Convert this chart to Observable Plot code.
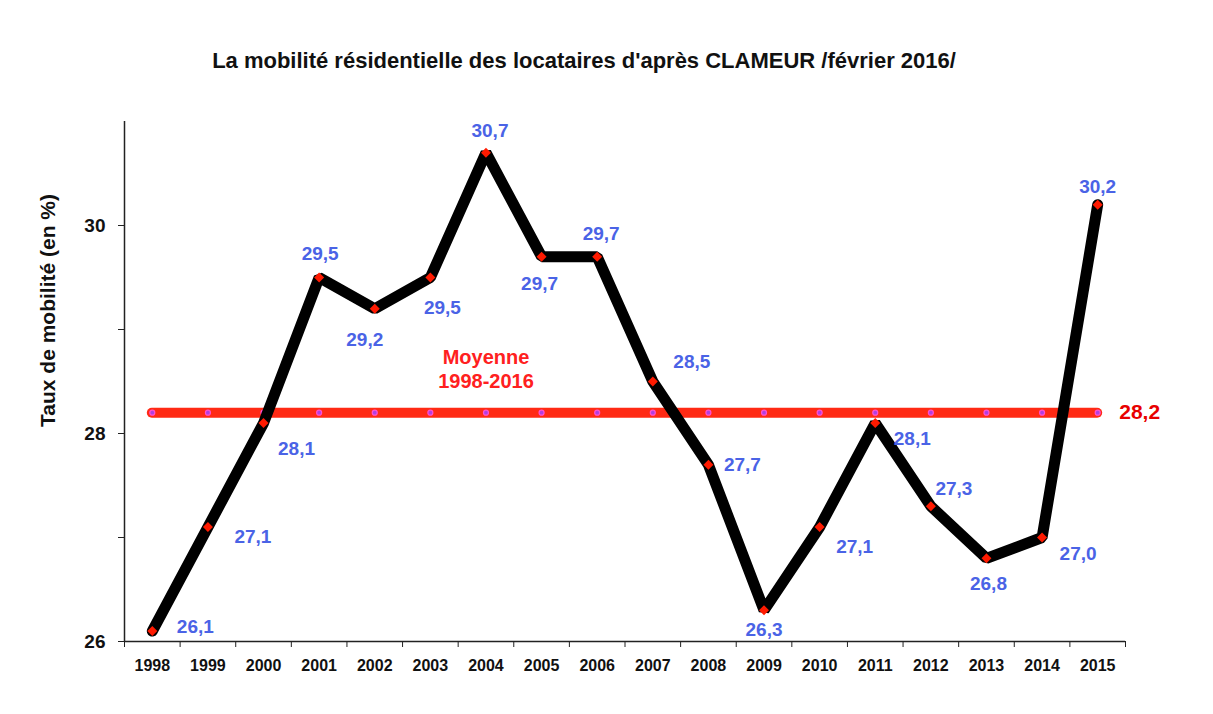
<!DOCTYPE html>
<html>
<head>
<meta charset="utf-8">
<script src="https://cdn.jsdelivr.net/npm/d3@7"></script>
<script src="https://cdn.jsdelivr.net/npm/@observablehq/plot@0.6"></script>
<style>
  body { margin: 0; background: #fff; width: 1213px; height: 714px; overflow: hidden; }
  #title { position: relative; height: 100px; width: 1168px; text-align: center;
           font-family: "Liberation Sans", Arial, sans-serif;
           font-weight: bold; font-size: 22px; color: #111; line-height: 1; }
  #title span { position: absolute; left: 0; right: 0; top: 50px; }
  #chart svg { display: block; overflow: visible; }
</style>
</head>
<body>
<div id="title"><span>La mobilité résidentielle des locataires d'après CLAMEUR /février 2016/</span></div>
<div id="chart"></div>
<script>
// ---- data ----
const years = [1998, 1999, 2000, 2001, 2002, 2003, 2004, 2005, 2006, 2007, 2008, 2009, 2010, 2011, 2012, 2013, 2014, 2015];
const rates = [26.1, 27.1, 28.1, 29.5, 29.2, 29.5, 30.7, 29.7, 29.7, 28.5, 27.7, 26.3, 27.1, 28.1, 27.3, 26.8, 27.0, 30.2];
const meanValue = 28.2;
const meanLabelLines = ["Moyenne", "1998-2016"];
const yLabeledTicks = [26, 28, 30];
const yMinorTicks = [27, 29];
const yAxisTitle = "Taux de mobilité (en %)";

// ---- layout (label offsets in px, per year) ----
const labelOffsets = [
  [43, -4], [45, 10], [33, 26], [1, -24], [-10, 31], [12, 30], [4, -22], [-2, 27], [4, -23],
  [39, -20], [34, 0], [0, 20], [35, 20], [37, 16], [23, -17], [2, 26], [36, 16], [0, -18]
];

const fmt = v => v.toFixed(1).replace(".", ",");
const data = years.map((y, i) => ({year: y, rate: rates[i], label: fmt(rates[i])}));
const boundaries = [...years.map(y => y - 0.5), years[years.length - 1] + 0.5];
const xMin = boundaries[0], xMax = boundaries[boundaries.length - 1];

const sans = '"Liberation Sans", Arial, sans-serif';
const blue = "#4a63e6";

const labelMarks = data.map((d, i) => Plot.text([d], {
  x: "year", y: "rate", text: "label",
  dx: labelOffsets[i][0], dy: labelOffsets[i][1],
  fill: blue, fontSize: 19, fontWeight: "bold", fontFamily: sans
}));

const plot = Plot.plot({
  width: 1213,
  height: 614,
  marginLeft: 124,
  marginRight: 88,
  marginTop: 21,
  marginBottom: 73,
  style: {fontFamily: sans, color: "#111", background: "#fff", overflow: "visible"},
  x: {domain: [xMin, xMax], axis: null},
  y: {domain: [26, 31], axis: null},
  marks: [
    // axes
    Plot.ruleX([xMin], {y1: 26, y2: 31, stroke: "#222", strokeWidth: 1.5}),
    Plot.ruleY([26], {x1: xMin, x2: xMax, stroke: "#222", strokeWidth: 1.5}),
    Plot.axisX({ticks: boundaries, tickSize: 6, tickFormat: () => "", stroke: "#222", label: null}),
    Plot.axisX({ticks: years, tickSize: 0, tickPadding: 18, tickFormat: d => String(d),
      fontWeight: "bold", fontSize: 16, fill: "#111", label: null}),
    Plot.axisY({ticks: yMinorTicks, tickSize: 6, tickFormat: () => "", stroke: "#222", label: null}),
    Plot.axisY({ticks: yLabeledTicks, tickSize: 6, tickPadding: 13, tickFormat: d => String(d),
      fontWeight: "bold", fontSize: 19, fill: "#111", stroke: "#222", label: null}),
    Plot.text([yAxisTitle], {frameAnchor: "left", textAnchor: "middle", rotate: -90, dx: -76, dy: -71, text: d => d,
      fontSize: 21, fontWeight: "bold", fill: "#111", fontFamily: sans}),
    // mean line
    Plot.ruleY([meanValue], {x1: years[0], x2: years[years.length - 1], stroke: "#ff2a14", strokeWidth: 10, strokeLinecap: "round"}),
    Plot.dot(years, {x: d => d, y: () => meanValue, r: 2.5, fill: "#b040e0", stroke: "#ff50d0", strokeWidth: 1.2}),
    // series
    Plot.line(data, {x: "year", y: "rate", stroke: "#000", strokeWidth: 11, strokeLinejoin: "miter"}),
    Plot.dot(data, {x: "year", y: "rate", symbol: "diamond2", r: 4.5, fill: "#ff1a00"}),
    ...labelMarks,
    // mean labels
    Plot.text([meanValue], {x: years[years.length - 1], y: d => d, text: d => fmt(d), dx: 42,
      fill: "#e80000", fontSize: 21, fontWeight: "bold", fontFamily: sans}),
    Plot.text([meanLabelLines[0]], {x: years[6], y: () => meanValue, text: d => d, dy: -55,
      fill: "#ff2020", fontSize: 20, fontWeight: "bold", fontFamily: sans}),
    Plot.text([meanLabelLines[1]], {x: years[6], y: () => meanValue, text: d => d, dy: -31,
      fill: "#ff2020", fontSize: 20, fontWeight: "bold", fontFamily: sans})
  ]
});
document.getElementById("chart").appendChild(plot);
</script>
</body>
</html>
